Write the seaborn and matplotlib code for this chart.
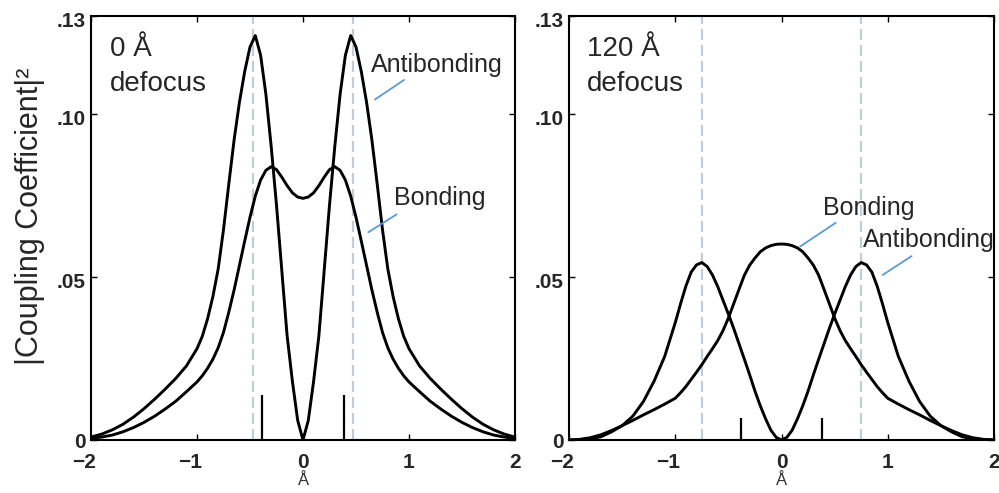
import matplotlib
matplotlib.use("Agg")
import matplotlib.pyplot as plt
import matplotlib.transforms as mtransforms
import seaborn as sns

# ---------------- data ----------------
x_A = [-2.0, -1.9, -1.8, -1.7, -1.6, -1.5, -1.4, -1.3, -1.2, -1.1, -1.0,
       -0.95, -0.9, -0.85, -0.8, -0.75, -0.7, -0.65, -0.6, -0.55, -0.5,
       -0.45, -0.4, -0.35, -0.3, -0.25, -0.2, -0.15, -0.1, -0.05, 0.0,
       0.05, 0.1, 0.15, 0.2, 0.25, 0.3, 0.35, 0.4, 0.45, 0.5,
       0.55, 0.6, 0.65, 0.7, 0.75, 0.8, 0.85, 0.9, 0.95, 1.0,
       1.1, 1.2, 1.3, 1.4, 1.5, 1.6, 1.7, 1.8, 1.9, 2.0]

antibonding_0 = [0.0009, 0.0018, 0.0031, 0.0048, 0.0070, 0.0096, 0.0125, 0.0156, 0.0189, 0.0227, 0.0280,
                 0.0318, 0.0372, 0.0440, 0.0525, 0.0645, 0.0785, 0.0920, 0.1035, 0.1130, 0.1205,
                 0.1240, 0.1180, 0.1060, 0.0900, 0.0720, 0.0520, 0.0320, 0.0180, 0.0060, 0.0000,
                 0.0060, 0.0180, 0.0320, 0.0520, 0.0720, 0.0900, 0.1060, 0.1180, 0.1240, 0.1205,
                 0.1130, 0.1035, 0.0920, 0.0785, 0.0645, 0.0525, 0.0440, 0.0372, 0.0318, 0.0280,
                 0.0227, 0.0189, 0.0156, 0.0125, 0.0096, 0.0070, 0.0048, 0.0031, 0.0018, 0.0009]

bonding_0 = [0.0005, 0.0009, 0.0015, 0.0025, 0.0038, 0.0054, 0.0073, 0.0095, 0.0119, 0.0148, 0.0178,
             0.0197, 0.0220, 0.0248, 0.0283, 0.0330, 0.0392, 0.0460, 0.0535, 0.0610, 0.0683,
             0.0748, 0.0797, 0.0827, 0.0838, 0.0829, 0.0806, 0.0780, 0.0758, 0.0745, 0.0741,
             0.0745, 0.0758, 0.0780, 0.0806, 0.0829, 0.0838, 0.0827, 0.0797, 0.0748, 0.0683,
             0.0610, 0.0535, 0.0460, 0.0392, 0.0330, 0.0283, 0.0248, 0.0220, 0.0197, 0.0178,
             0.0148, 0.0119, 0.0095, 0.0073, 0.0054, 0.0038, 0.0025, 0.0015, 0.0009, 0.0005]

antibonding_120 = [0.0000, 0.0001, 0.0003, 0.0010, 0.0025, 0.0044, 0.0073, 0.0118, 0.0180, 0.0256, 0.0360,
                   0.0418, 0.0472, 0.0515, 0.0537, 0.0544, 0.0532, 0.0506, 0.0470, 0.0428, 0.0386,
                   0.0342, 0.0295, 0.0248, 0.0200, 0.0150, 0.0105, 0.0065, 0.0030, 0.0008, 0.0000,
                   0.0008, 0.0030, 0.0065, 0.0105, 0.0150, 0.0200, 0.0248, 0.0295, 0.0342, 0.0386,
                   0.0428, 0.0470, 0.0506, 0.0532, 0.0544, 0.0537, 0.0515, 0.0472, 0.0418, 0.0360,
                   0.0256, 0.0180, 0.0118, 0.0073, 0.0044, 0.0025, 0.0010, 0.0003, 0.0001, 0.0000]

bonding_120 = [0.0000, 0.0002, 0.0007, 0.0016, 0.0029, 0.0044, 0.0060, 0.0077, 0.0093, 0.0110, 0.0128,
               0.0145, 0.0164, 0.0186, 0.0208, 0.0231, 0.0256, 0.0280, 0.0305, 0.0336, 0.0374,
               0.0418, 0.0462, 0.0505, 0.0536, 0.0558, 0.0577, 0.0589, 0.0596, 0.0600, 0.0601,
               0.0600, 0.0596, 0.0589, 0.0577, 0.0558, 0.0536, 0.0505, 0.0462, 0.0418, 0.0374,
               0.0336, 0.0305, 0.0280, 0.0256, 0.0231, 0.0208, 0.0186, 0.0164, 0.0145, 0.0128,
               0.0110, 0.0093, 0.0077, 0.0060, 0.0044, 0.0029, 0.0016, 0.0007, 0.0002, 0.0000]

dashed_0 = [-0.47, 0.47]
dashed_120 = [-0.75, 0.75]
atom_x = [-0.385, 0.385]
atom_h_0 = 0.0138
atom_h_120 = 0.0067

x_ticks = [-2, -1, 0, 1, 2]
x_tick_labels = ["\u22122", "\u22121", "0", "1", "2"]
y_ticks = [0, 0.05, 0.10, 0.13]
y_tick_labels = ["0", ".05", ".10", ".13"]

# ---------------- style ----------------
sns.set_style("ticks")
plt.rcParams["font.family"] = ["Liberation Sans", "DejaVu Sans"]

BLUE = "#5b9bd5"
DASH = "#c6cbd3"

fig = plt.figure(figsize=(9.99, 4.93), dpi=100)
ax1 = fig.add_axes([0.0911, 0.1075, 0.4244, 0.8600])
ax2 = fig.add_axes([0.5696, 0.1075, 0.4254, 0.8600])


def style_panel(ax, dashed, atom_h, ab, b):
    for xv in dashed:
        ax.axvline(xv, color=DASH, lw=1.6, ls=(0, (5, 2.2)), zorder=1)
    ax.vlines(atom_x, 0, atom_h, color="black", lw=1.6, zorder=2)
    sns.lineplot(x=x_A, y=ab, ax=ax, color="black", lw=2.1,
                 estimator=None, sort=False, zorder=3)
    sns.lineplot(x=x_A, y=b, ax=ax, color="black", lw=2.1,
                 estimator=None, sort=False, zorder=3)
    ax.set_xlim(-2, 2)
    ax.set_ylim(0, 0.13)
    ax.set_xticks(x_ticks)
    ax.set_xticklabels(x_tick_labels, fontweight="bold", fontsize=15)
    ax.set_yticks(y_ticks)
    ax.set_yticklabels(y_tick_labels, fontweight="bold", fontsize=15)
    ax.tick_params(axis="both", direction="in", length=4, width=1,
                   top=True, right=True, color="black")
    ax.tick_params(axis="x", pad=9)
    ax.tick_params(axis="y", pad=4)
    # MATLAB-like label placement: upper y labels sit slightly low,
    # negative x labels centred on the digit (minus hangs left)
    down = mtransforms.ScaledTranslation(0, -2.5 / 72, fig.dpi_scale_trans)
    for lab, txt in zip(ax.get_yticklabels(), y_tick_labels):
        if txt != "0":
            lab.set_transform(lab.get_transform() + down)
    left = mtransforms.ScaledTranslation(-5 / 72, 0, fig.dpi_scale_trans)
    for lab, txt in zip(ax.get_xticklabels(), x_tick_labels):
        if txt.startswith("\u2212"):
            lab.set_transform(lab.get_transform() + left)
    for s in ax.spines.values():
        s.set_linewidth(1.5)
        s.set_color("black")
    ax.set_xlabel("\u00c5", fontsize=12, color="#333333", labelpad=1)


style_panel(ax1, dashed_0, atom_h_0, antibonding_0, bonding_0)
style_panel(ax2, dashed_120, atom_h_120, antibonding_120, bonding_120)

ax1.set_ylabel("|Coupling Coefficient|\u00b2", fontsize=22)
ax1.yaxis.set_label_coords(-0.108, 0.527)
ax2.set_ylabel("")

# panel titles
ax1.text(-1.82, 0.1177, "0 \u00c5", fontsize=20, va="baseline", ha="left")
ax1.text(-1.82, 0.1071, "defocus", fontsize=20, va="baseline", ha="left")
ax2.text(-1.83, 0.1177, "120 \u00c5", fontsize=20, va="baseline", ha="left")
ax2.text(-1.83, 0.1071, "defocus", fontsize=20, va="baseline", ha="left")


# curve labels with pointer lines
def label(ax, txt, tx, ty, p0, p1):
    ax.text(tx, ty, txt, fontsize=18, va="baseline", ha="left", clip_on=False)
    ax.annotate("", xy=p0, xytext=p1,
                arrowprops=dict(arrowstyle="-", color=BLUE, lw=1.3,
                                shrinkA=0, shrinkB=0))


label(ax1, "Antibonding", 0.639, 0.1129, (0.679, 0.1044), (0.953, 0.1104))
label(ax1, "Bonding", 0.861, 0.0720, (0.616, 0.0637), (0.884, 0.0692))
label(ax2, "Bonding", 0.393, 0.0690, (0.174, 0.0593), (0.510, 0.0666))
label(ax2, "Antibonding", 0.770, 0.0593, (0.952, 0.0506), (1.225, 0.0564))

fig.savefig("out.png", dpi=100)
